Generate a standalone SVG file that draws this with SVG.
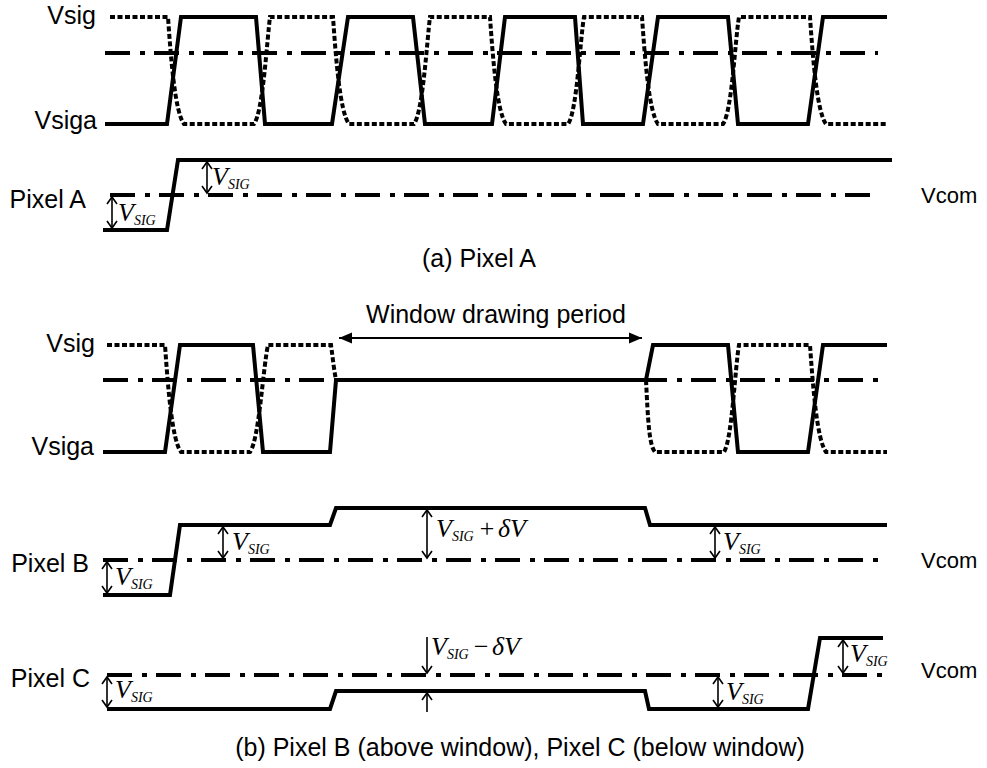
<svg xmlns="http://www.w3.org/2000/svg" width="987" height="768" viewBox="0 0 987 768">
<defs>
<style>
.sol{fill:none;stroke:#000;stroke-width:4;stroke-linejoin:miter}
.dot{fill:none;stroke:#000;stroke-width:4;stroke-dasharray:5 2.5}
.dd{fill:none;stroke:#000;stroke-width:4;stroke-dasharray:25 10 5 9}
.arr{fill:none;stroke:#000;stroke-width:1.6;marker-start:url(#oa);marker-end:url(#oa)}
.arr1{fill:none;stroke:#000;stroke-width:1.6;marker-end:url(#oa)}
.lbl{font-family:"Liberation Sans",Arial,sans-serif;font-size:25px;fill:#000}
.vcom{font-family:"Liberation Sans",Arial,sans-serif;font-size:22px;fill:#000}
.vs{font-family:"Liberation Serif","Times New Roman",serif;font-style:italic;font-size:26px;fill:#000}
.sub{font-size:14px}
</style>
<marker id="oa" markerUnits="userSpaceOnUse" markerWidth="16" markerHeight="16" viewBox="-8 -8 16 16" refX="0" refY="0" orient="auto-start-reverse">
<path d="M-7,-5 L0,0 L-7,5" fill="none" stroke="#000" stroke-width="1.6"/>
</marker>
<marker id="fa" markerUnits="userSpaceOnUse" markerWidth="16" markerHeight="14" viewBox="-14 -7 16 14" refX="0" refY="0" orient="auto-start-reverse">
<path d="M-13,-5.5 L0,0 L-13,5.5 Z" fill="#000"/>
</marker>
</defs>
<rect width="987" height="768" fill="#fff"/>

<g id="section-a">
  <g id="a-signals">
    <path class="dd" d="M105,53 H878"/>
    <path class="dot" d="M110,17 H168 C171,60 175,112 184,124 H254 C263,112 267,40 270,17 H333 C336,60 340,112 349,124 H414 C423,112 427,40 430,17 H490 C493,60 497,112 506,124 H568 C577,112 580,40 584,17 H642 C645,60 649,112 658,124 H723 C732,112 735,40 739,17 H810 C813,60 817,112 826,124 H887"/>
    <path class="sol" d="M105,124 H167 L181,17 H256 L265,124 H332 L348,17 H413 L425,124 H492 L505,17 H575 L583,124 H643 L658,17 H728 L738,124 H808 L823,17 H887"/>
    <text class="lbl" x="96" y="24" text-anchor="end">Vsig</text>
    <text class="lbl" x="97" y="129" text-anchor="end">Vsiga</text>
  </g>
  <g id="pixel-a">
    <path class="dd" d="M110,195 H880"/>
    <path class="sol" d="M103,230 H167 L178,160 H892"/>
    <text class="lbl" x="86" y="208" text-anchor="end">Pixel A</text>
    <text class="vcom" x="921" y="203">Vcom</text>
    <line class="arr" x1="112" y1="197" x2="112" y2="228"/>
    <text class="vs" x="118" y="221">V<tspan class="sub" dy="4">SIG</tspan></text>
    <line class="arr" x1="207" y1="162" x2="207" y2="193"/>
    <text class="vs" x="212" y="185">V<tspan class="sub" dy="4">SIG</tspan></text>
  </g>
  <text id="caption-a" class="lbl" x="422" y="267">(a) Pixel A</text>
</g>

<g id="section-b">
  <g id="window-period">
    <line x1="339" y1="338" x2="642" y2="338" stroke="#000" stroke-width="2" marker-start="url(#fa)" marker-end="url(#fa)"/>
    <text class="lbl" x="496" y="323" text-anchor="middle">Window drawing period</text>
  </g>
  <g id="b-signals">
    <path class="dd" d="M103,380 H887"/>
    <path class="dot" d="M107,345 H165 C168,388 172,440 181,452 H250 C259,440 263,368 268,345 H331 C333,360 334,370 336,380 M646,380 C648,420 649,445 655,452 H724 C732,440 735,368 739,345 H810 C813,388 817,440 826,452 H887"/>
    <path class="sol" d="M103,452 H165 L180,345 H253 L263,452 H330 L336,380 H646 L653,345 H728 L738,452 H808 L823,345 H887"/>
    <text class="lbl" x="95" y="352" text-anchor="end">Vsig</text>
    <text class="lbl" x="94" y="455" text-anchor="end">Vsiga</text>
  </g>
  <g id="pixel-b">
    <path class="dd" d="M103,560 H887"/>
    <path class="sol" d="M103,595 H170 L180,525 H330 L336,508 H645 L650,525 H887"/>
    <text class="lbl" x="89" y="572" text-anchor="end">Pixel B</text>
    <text class="vcom" x="921" y="568">Vcom</text>
    <line class="arr" x1="107" y1="562" x2="107" y2="593"/>
    <text class="vs" x="115" y="585">V<tspan class="sub" dy="4">SIG</tspan></text>
    <line class="arr" x1="223" y1="527" x2="223" y2="558"/>
    <text class="vs" x="232" y="550">V<tspan class="sub" dy="4">SIG</tspan></text>
    <line class="arr" x1="427" y1="510" x2="427" y2="558"/>
    <text class="vs" x="436" y="537">V<tspan class="sub" dy="4">SIG</tspan><tspan x="478" dy="-4">+</tspan><tspan x="498">δV</tspan></text>
    <line class="arr" x1="715" y1="527" x2="715" y2="558"/>
    <text class="vs" x="723" y="550">V<tspan class="sub" dy="4">SIG</tspan></text>
  </g>
  <g id="pixel-c">
    <path class="dd" d="M107,675 H890"/>
    <path class="sol" d="M107,709 H330 L336,691 H645 L649,709 H808 L820,638 H883"/>
    <text class="lbl" x="90" y="687" text-anchor="end">Pixel C</text>
    <text class="vcom" x="921" y="678">Vcom</text>
    <line class="arr" x1="107" y1="677" x2="107" y2="707"/>
    <text class="vs" x="115" y="698">V<tspan class="sub" dy="4">SIG</tspan></text>
    <line class="arr1" x1="427" y1="637" x2="427" y2="673"/>
    <line class="arr1" x1="427" y1="712" x2="427" y2="693"/>
    <text class="vs" x="431" y="655">V<tspan class="sub" dy="4">SIG</tspan><tspan x="472" dy="-4">−</tspan><tspan x="492">δV</tspan></text>
    <line class="arr" x1="718" y1="677" x2="718" y2="707"/>
    <text class="vs" x="726" y="700">V<tspan class="sub" dy="4">SIG</tspan></text>
    <line class="arr" x1="843" y1="640" x2="843" y2="673"/>
    <text class="vs" x="850" y="662">V<tspan class="sub" dy="4">SIG</tspan></text>
  </g>
  <text id="caption-b" class="lbl" x="520" y="756" text-anchor="middle">(b) Pixel B (above window), Pixel C (below window)</text>
</g>
</svg>
